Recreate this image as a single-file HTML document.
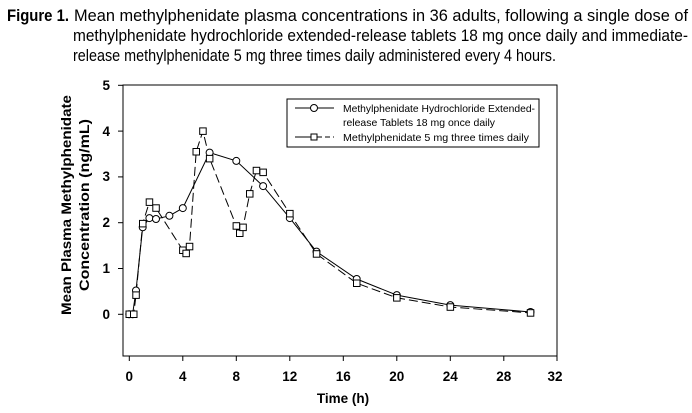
<!DOCTYPE html>
<html><head><meta charset="utf-8"><style>body{margin:0;background:#fff}svg{display:block}</style></head>
<body>
<svg width="692" height="413" xmlns="http://www.w3.org/2000/svg" font-family="Liberation Sans, Arial, sans-serif">
<text x="7" y="21" font-size="17" font-weight="bold" textLength="62" lengthAdjust="spacingAndGlyphs">Figure 1.</text>
<text x="74" y="21" font-size="17" textLength="614" lengthAdjust="spacingAndGlyphs">Mean methylphenidate plasma concentrations in 36 adults, following a single dose of</text>
<text x="73" y="41" font-size="17" textLength="615" lengthAdjust="spacingAndGlyphs">methylphenidate hydrochloride extended-release tablets 18 mg once daily and immediate-</text>
<text x="73" y="61" font-size="17" textLength="483" lengthAdjust="spacingAndGlyphs">release methylphenidate 5 mg three times daily administered every 4 hours.</text>
<rect x="123" y="85" width="434" height="271" fill="none" stroke="#000" stroke-width="1"/>
<g stroke="#000" stroke-width="1">
<line x1="118" y1="314.3" x2="123" y2="314.3"/><line x1="118" y1="268.5" x2="123" y2="268.5"/><line x1="118" y1="222.7" x2="123" y2="222.7"/><line x1="118" y1="176.9" x2="123" y2="176.9"/><line x1="118" y1="131.1" x2="123" y2="131.1"/><line x1="118" y1="85.3" x2="123" y2="85.3"/>
<line x1="129.3" y1="356" x2="129.3" y2="361"/><line x1="182.8" y1="356" x2="182.8" y2="361"/><line x1="236.3" y1="356" x2="236.3" y2="361"/><line x1="289.8" y1="356" x2="289.8" y2="361"/><line x1="343.3" y1="356" x2="343.3" y2="361"/><line x1="396.8" y1="356" x2="396.8" y2="361"/><line x1="450.3" y1="356" x2="450.3" y2="361"/><line x1="503.8" y1="356" x2="503.8" y2="361"/><line x1="557" y1="356" x2="557" y2="361"/>
</g>
<g font-size="13.5" font-weight="bold" text-anchor="end">
<text x="110" y="319">0</text><text x="110" y="273">1</text><text x="110" y="227">2</text><text x="110" y="181">3</text><text x="110" y="136">4</text><text x="110" y="90">5</text>
</g>
<g font-size="13.5" font-weight="bold" text-anchor="middle">
<text x="129.3" y="381">0</text><text x="182.8" y="381">4</text><text x="236.3" y="381">8</text><text x="289.8" y="381">12</text><text x="343.3" y="381">16</text><text x="396.8" y="381">20</text><text x="450.3" y="381">24</text><text x="503.8" y="381">28</text><text x="555" y="381">32</text>
<text x="343" y="403">Time (h)</text>
<text transform="translate(71,205) rotate(-90)" textLength="220" lengthAdjust="spacingAndGlyphs">Mean Plasma Methylphenidate</text>
<text transform="translate(89,205) rotate(-90)" textLength="172" lengthAdjust="spacingAndGlyphs">Concentration (ng/mL)</text>
</g>
<polyline fill="none" stroke="#000" stroke-width="1" points="129.3,314.3 132.6,314.3 136,290.5 142.7,227.3 149.4,218.1 156,219 169.4,215.8 182.8,208.1 209.6,152.6 236.3,160.9 263.1,186.1 289.8,218.1 316.5,251.6 356.7,279 396.8,295.1 450.3,305.1 530.5,312"/>
<polyline fill="none" stroke="#000" stroke-width="1" stroke-dasharray="9,4" points="129.3,314.3 133.7,314.3 136,295.1 142.7,223.6 149.4,202.1 156,208 182.8,250.2 186.1,253.4 189.5,246.5 196.2,151.7 202.9,131.1 209.6,158.6 236.3,225.9 239.7,233.2 243,227.3 249.7,193.8 256.4,170.5 263.1,172.3 289.8,213.6 316.5,253.9 356.7,283.2 396.8,297.8 450.3,307 530.5,312.9"/>
<g fill="#fff" stroke="#000" stroke-width="1">
<circle cx="129.3" cy="314.3" r="3.5"/><circle cx="132.6" cy="314.3" r="3.5"/><circle cx="136" cy="290.5" r="3.5"/><circle cx="142.7" cy="227.3" r="3.5"/><circle cx="149.4" cy="218.1" r="3.5"/><circle cx="156" cy="219" r="3.5"/><circle cx="169.4" cy="215.8" r="3.5"/><circle cx="182.8" cy="208.1" r="3.5"/><circle cx="209.6" cy="152.6" r="3.5"/><circle cx="236.3" cy="160.9" r="3.5"/><circle cx="263.1" cy="186.1" r="3.5"/><circle cx="289.8" cy="218.1" r="3.5"/><circle cx="316.5" cy="251.6" r="3.5"/><circle cx="356.7" cy="279" r="3.5"/><circle cx="396.8" cy="295.1" r="3.5"/><circle cx="450.3" cy="305.1" r="3.5"/><circle cx="530.5" cy="312" r="3.5"/>
</g>
<g fill="#fff" stroke="#000" stroke-width="1">
<rect x="126" y="311" width="6.5" height="6.5"/><rect x="130.5" y="311" width="6.5" height="6.5"/><rect x="132.8" y="291.9" width="6.5" height="6.5"/><rect x="139.5" y="220.4" width="6.5" height="6.5"/><rect x="146.2" y="198.9" width="6.5" height="6.5"/><rect x="152.8" y="204.8" width="6.5" height="6.5"/><rect x="179.6" y="247" width="6.5" height="6.5"/><rect x="182.9" y="250.2" width="6.5" height="6.5"/><rect x="186.3" y="243.3" width="6.5" height="6.5"/><rect x="193" y="148.5" width="6.5" height="6.5"/><rect x="199.7" y="127.9" width="6.5" height="6.5"/><rect x="206.4" y="155.4" width="6.5" height="6.5"/><rect x="233.1" y="222.7" width="6.5" height="6.5"/><rect x="236.5" y="230" width="6.5" height="6.5"/><rect x="239.8" y="224.1" width="6.5" height="6.5"/><rect x="246.5" y="190.6" width="6.5" height="6.5"/><rect x="253.2" y="167.3" width="6.5" height="6.5"/><rect x="259.9" y="169.1" width="6.5" height="6.5"/><rect x="286.6" y="210.4" width="6.5" height="6.5"/><rect x="313.3" y="250.7" width="6.5" height="6.5"/><rect x="353.5" y="280" width="6.5" height="6.5"/><rect x="393.6" y="294.6" width="6.5" height="6.5"/><rect x="447.1" y="303.8" width="6.5" height="6.5"/><rect x="527.3" y="309.7" width="6.5" height="6.5"/>
</g>
<rect x="287" y="99" width="252" height="48" fill="#fff" stroke="#000" stroke-width="1"/>
<line x1="295" y1="108" x2="334" y2="108" stroke="#000"/><circle cx="314" cy="108" r="3.5" fill="#fff" stroke="#000"/>
<line x1="295" y1="137" x2="311" y2="137" stroke="#000"/><line x1="317" y1="137" x2="334" y2="137" stroke="#000" stroke-dasharray="5,3"/><rect x="311" y="134" width="6" height="6" fill="#fff" stroke="#000"/>
<g font-size="10.5">
<text x="343" y="112" textLength="192" lengthAdjust="spacingAndGlyphs">Methylphenidate Hydrochloride Extended-</text>
<text x="343" y="126" textLength="152" lengthAdjust="spacingAndGlyphs">release Tablets 18 mg once daily</text>
<text x="343" y="141" textLength="186" lengthAdjust="spacingAndGlyphs">Methylphenidate 5 mg three times daily</text>
</g>
</svg>
</body></html>
